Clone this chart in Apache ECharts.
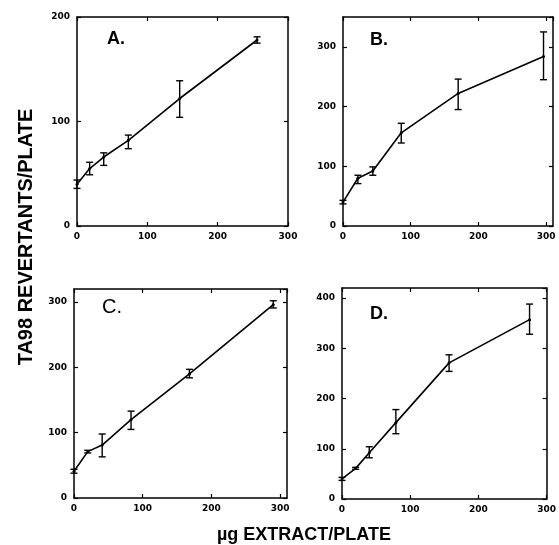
<!DOCTYPE html>
<html><head><meta charset="utf-8">
<script src="https://cdn.jsdelivr.net/npm/echarts@6/dist/echarts.min.js"></script>
<style>html,body{margin:0;padding:0;background:#fff}#c{width:559px;height:545px}</style>
</head><body><div id="c"></div>
<script>
// Panel A
const xA = [0, 18, 38, 73, 146, 256];
const yA = [40, 55, 66, 82, 122, 178];
const loA = [36, 49, 58, 74, 104, 175];
const hiA = [44, 61, 70, 87, 139, 181];
// Panel B
const xB = [0, 22, 44, 86, 170, 296];
const yB = [40, 80, 92, 156, 222, 284];
const loB = [37, 71, 85, 139, 195, 245];
const hiB = [43, 85, 99, 172, 246, 325];
// Panel C
const xC = [0, 20, 41, 83, 168, 290];
const yC = [41, 71, 81, 120, 190, 296];
const loC = [38, 69, 63, 105, 184, 291];
const hiC = [44, 73, 98, 133, 197, 302];
// Panel D
const xD = [0, 20, 40, 79, 157, 275];
const yD = [40, 61, 92, 152, 271, 357];
const loD = [37, 59, 82, 130, 254, 328];
const hiD = [43, 63, 104, 178, 287, 388];

const panelLabels = ['A.', 'B.', 'C.', 'D.'];
const xMax = [300, 310, 310, 300];
const yMax = [200, 350, 320, 420];
const xTitle = 'µg EXTRACT/PLATE';
const yTitle = 'TA98 REVERTANTS/PLATE';

const panels = [
  {x: xA, y: yA, lo: loA, hi: hiA},
  {x: xB, y: yB, lo: loB, hi: hiB},
  {x: xC, y: yC, lo: loC, hi: hiC},
  {x: xD, y: yD, lo: loD, hi: hiD}
];
const grids = [
  {left: 77, top: 17, width: 211, height: 209},
  {left: 343, top: 17, width: 210, height: 209},
  {left: 74, top: 289, width: 213, height: 209},
  {left: 342, top: 288, width: 208, height: 211}
];
const labelPos = [[107, 40], [370, 41], [102, 307], [370, 315]];

const tickFont = {fontFamily: 'DejaVu Sans', fontWeight: 'bold', fontSize: 9, color: '#000'};
const fmt = v => (v % 100 === 0 ? String(v) : '');

const xAxes = [], yAxes = [], series = [];
grids.forEach((g, i) => {
  const base = {type: 'value', gridIndex: i, min: 0, interval: 100, splitLine: {show: false},
    axisLine: {show: true, onZero: false, lineStyle: {color: '#000', width: 1.5}},
    axisTick: {show: true, inside: true, length: 4, lineStyle: {color: '#000', width: 1.2}}};
  xAxes.push(Object.assign({}, base, {position: 'bottom', max: xMax[i],
    axisLabel: Object.assign({margin: 6, formatter: fmt, showMaxLabel: xMax[i] % 100 === 0}, tickFont)}));
  xAxes.push(Object.assign({}, base, {position: 'top', max: xMax[i], axisLabel: {show: false}}));
  yAxes.push(Object.assign({}, base, {position: 'left', max: yMax[i],
    axisLabel: Object.assign({margin: 7, formatter: fmt, showMaxLabel: yMax[i] % 100 === 0}, tickFont)}));
  yAxes.push(Object.assign({}, base, {position: 'right', max: yMax[i], axisLabel: {show: false}}));
  const p = panels[i];
  series.push({
    type: 'line', xAxisIndex: 2 * i, yAxisIndex: 2 * i,
    data: p.x.map((v, k) => [v, p.y[k]]),
    symbol: 'circle', symbolSize: 3, itemStyle: {color: '#000'},
    lineStyle: {color: '#000', width: 1.6}, animation: false
  });
  series.push({
    type: 'custom', xAxisIndex: 2 * i, yAxisIndex: 2 * i,
    data: p.x.map((v, k) => [v, p.lo[k], p.hi[k]]),
    renderItem: (params, api) => {
      const lo = api.coord([api.value(0), api.value(1)]);
      const hi = api.coord([api.value(0), api.value(2)]);
      const w = 3.5;
      const st = {stroke: '#000', lineWidth: 1.4};
      return {type: 'group', children: [
        {type: 'line', shape: {x1: lo[0], y1: lo[1], x2: hi[0], y2: hi[1]}, style: st},
        {type: 'line', shape: {x1: lo[0] - w, y1: lo[1], x2: lo[0] + w, y2: lo[1]}, style: st},
        {type: 'line', shape: {x1: hi[0] - w, y1: hi[1], x2: hi[0] + w, y2: hi[1]}, style: st}
      ]};
    },
    animation: false
  });
});

const graphic = panelLabels.map((t, i) => ({
  type: 'text', left: labelPos[i][0], top: labelPos[i][1] - 10,
  style: {text: t, fontFamily: 'Liberation Sans', fontWeight: i === 2 ? 'normal' : 'bold',
    fontSize: i === 2 ? 20 : 18, fill: '#000'}
}));
graphic.push({type: 'text', x: 26, y: 237, rotation: Math.PI / 2,
  style: {text: yTitle, fontFamily: 'Liberation Sans', fontWeight: 'bold', fontSize: 20,
    fill: '#000', align: 'center', verticalAlign: 'middle'}});
graphic.push({type: 'text', x: 304, y: 535,
  style: {text: xTitle, fontFamily: 'Liberation Sans', fontWeight: 'bold', fontSize: 18,
    fill: '#000', align: 'center', verticalAlign: 'middle'}});

const chart = echarts.init(document.getElementById('c'));
chart.setOption({
  animation: false,
  grid: grids.map(g => Object.assign({show: false, containLabel: false}, g)),
  xAxis: xAxes, yAxis: yAxes, series: series, graphic: graphic
});
</script></body></html>
